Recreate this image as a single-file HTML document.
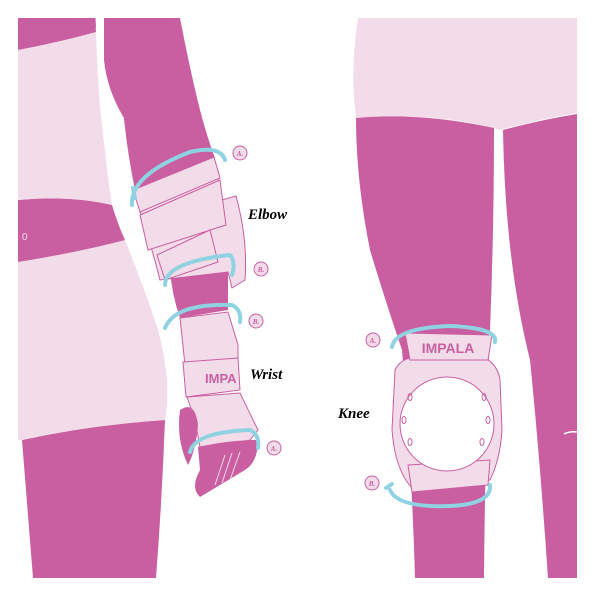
<!DOCTYPE html>
<html><head><style>body{margin:0;background:#fff}svg{display:block}</style></head><body>
<svg width="600" height="600" viewBox="0 0 600 600" xmlns="http://www.w3.org/2000/svg" font-family="Liberation Serif, serif">
<defs><style>.m{fill:#c95fa0}.p{fill:#f3dcea}.pl{fill:#f3dcea;stroke:#c95fa0;stroke-width:1}.c{fill:none;stroke:#8fd2e2;stroke-width:4;stroke-linecap:round}</style></defs>
<!-- LEFT PANEL -->
<path class="m" d="M22 440 Q90 425 165 420 Q162 500 156 578 L33 578 Z"/>
<path class="p" d="M18 262 Q80 252 125 240 Q145 290 158 330 Q172 380 165 420 Q90 425 22 440 L18 440 Z"/>
<path class="m" d="M18 200 Q70 195 112 205 Q118 225 125 240 Q80 252 18 262 Z"/>
<path class="p" d="M18 50 Q60 42 96 32 Q98 100 105 150 Q108 180 112 205 Q70 195 18 200 Z"/>
<path class="m" d="M18 18 L98 18 Q95 26 96 32 Q60 42 18 50 Z"/>
<text x="22" y="240" fill="#f3dcea" font-size="10" font-family="Liberation Sans">0</text>
<!-- white gap between torso and arm -->
<path d="M98 18 Q100 70 118 110 Q122 150 128 190 Q138 230 150 260" stroke="#fff" stroke-width="5" fill="none"/>
<!-- arm -->
<path class="m" d="M104 18 L180 18 Q190 70 200 110 Q208 140 215 158 L135 190 Q127 150 124 118 Q107 90 104 60 Z"/>
<path class="m" d="M170 270 L228 262 Q228 290 228 310 L180 318 Q172 295 170 270 Z"/>
<!-- elbow pad -->
<path class="pl" d="M133 190 L214 157 L222 200 L236 196 Q248 240 245 280 L232 288 L228 272 L160 280 Q150 240 133 190 Z"/>
<path class="pl" d="M133 190 L214 157 L220 178 L140 212 Z"/>
<path class="pl" d="M140 215 L220 180 L226 225 L148 250 Z"/>
<path class="pl" d="M157 255 L210 230 L218 262 L165 280 Z"/>
<path class="c" d="M132 205 Q130 175 190 152 Q220 145 225 160"/>
<path class="c" d="M133 188 L135 198"/>
<path class="c" d="M165 285 Q165 262 230 255 Q236 262 232 275"/>
<!-- wrist guard -->
<path class="pl" d="M180 318 L228 312 L238 345 L238 358 L185 365 Z"/>
<path class="pl" d="M183 362 L238 358 L240 390 L186 397 Z"/>
<text x="205" y="383" fill="#c95fa0" font-size="13" font-weight="bold" font-family="Liberation Sans">IMPA</text>
<path class="pl" d="M187 397 L240 393 L258 430 L250 440 Q225 445 200 447 L195 420 Z"/>
<path class="m" d="M198 447 Q230 440 258 440 Q258 462 245 470 Q220 485 200 497 Q190 488 200 470 Z"/>
<path class="m" d="M180 410 Q195 400 198 425 Q196 450 188 465 Q176 440 180 410 Z"/>
<path d="M225 455 L215 485 M232 453 L222 483 M240 452 L230 480" stroke="#f3dcea" fill="none"/>
<path class="c" d="M165 328 Q175 303 232 305 Q242 310 240 322"/>
<path class="c" d="M190 452 Q195 432 250 430 Q260 435 258 448"/>
<!-- labels -->
<g font-size="7" font-style="italic" font-weight="bold" fill="#c95fa0" text-anchor="middle">
<circle cx="240" cy="153" r="7" fill="#f3dcea" stroke="#c95fa0"/><text x="240" y="156">A.</text>
<circle cx="261" cy="269" r="7" fill="#f3dcea" stroke="#c95fa0"/><text x="261" y="272">B.</text>
<circle cx="256" cy="321" r="7" fill="#f3dcea" stroke="#c95fa0"/><text x="256" y="324">B.</text>
<circle cx="274" cy="448" r="7" fill="#f3dcea" stroke="#c95fa0"/><text x="274" y="451">A.</text>
<circle cx="373" cy="340" r="7" fill="#f3dcea" stroke="#c95fa0"/><text x="373" y="343">A.</text>
<circle cx="372" cy="483" r="7" fill="#f3dcea" stroke="#c95fa0"/><text x="372" y="486">B.</text>
</g>
<g font-size="15" font-style="italic" font-weight="bold" fill="#000">
<text x="248" y="219">Elbow</text>
<text x="250" y="379">Wrist</text>
<text x="338" y="418">Knee</text>
</g>
<!-- RIGHT PANEL -->
<path class="p" d="M358 18 L577 18 L577 113 Q545 118 500 130 Q440 112 356 118 Q350 70 358 18 Z"/>
<path class="m" d="M356 118 Q420 112 494 128 Q494 230 490 330 Q485 450 484 578 L415 578 Q412 470 402 350 Q385 300 370 250 Q356 180 356 118 Z"/>
<path class="m" d="M503 130 Q540 120 577 114 L577 578 L548 578 Q540 460 530 360 Q505 260 503 130 Z"/>
<path d="M564 434 Q570 431 577 432" stroke="#fff" fill="none" stroke-width="1.5"/>
<!-- knee pad -->
<path class="pl" d="M395 370 Q400 360 410 358 L485 358 Q498 365 500 380 L502 430 Q500 460 490 480 L412 488 Q395 470 392 430 Z"/>
<path class="pl" d="M405 333 L492 335 L488 360 L410 360 Z"/>
<text x="448" y="353" fill="#c95fa0" font-size="14" font-weight="bold" font-family="Liberation Sans" text-anchor="middle">IMPALA</text>
<path class="pl" d="M408 465 L490 460 L488 485 L412 492 Z"/>
<circle cx="447" cy="424" r="47" fill="#fff" stroke="#c95fa0"/>
<g fill="none" stroke="#c95fa0"><ellipse cx="410" cy="397" rx="2" ry="3.5"/><ellipse cx="404" cy="420" rx="2" ry="3.5"/><ellipse cx="410" cy="442" rx="2" ry="3.5"/><ellipse cx="484" cy="397" rx="2" ry="3.5"/><ellipse cx="488" cy="420" rx="2" ry="3.5"/><ellipse cx="482" cy="442" rx="2" ry="3.5"/></g>
<path class="c" d="M392 347 Q395 328 450 326 Q498 328 495 342"/>
<path class="c" d="M390 490 Q398 508 450 506 Q492 504 490 485"/>
<path class="c" d="M386 488 L392 484"/>
</svg>
</body></html>
